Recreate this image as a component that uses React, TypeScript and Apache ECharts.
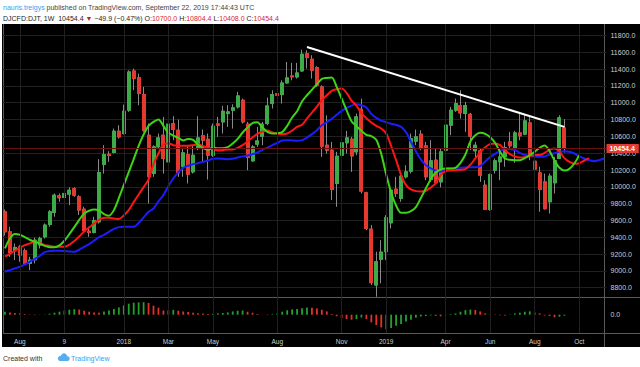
import React, { useEffect, useRef } from 'react';
import * as echarts from 'echarts';

// ---- data (weekly DJCFD:DJT, Jul 2017 - Sep 2019) ----
const firstWeek = '2017-07-17';
const totalSlots = 122; // 114 candles + 8 weeks of forward-shifted alligator jaw

const opens = [9703,9465,9240,9287,9240,9089,9133,9307,9406,9553,9695,9893,9873,9913,9980,9881,9735,9473,9457,9584,
  10265,10388,10408,10661,10634,10911,11378,11299,11097,10614,10158,10475,10614,10297,10752,10673,10238,10384,10178,10455,
  10610,10566,10376,10748,10772,10871,10911,10950,11030,10745,10309,10507,10602,10752,10990,11109,11097,11235,11319,11307,
  11378,11584,11517,11418,11188,10495,10436,10040,10376,10523,10566,10416,10923,9929,9497,8832,9137,9228,9572,9972,
  9861,10119,10186,10543,10626,10487,10087,10317,10059,10436,10733,10911,10966,10871,10863,10428,10428,10020,9731,10198,
  10297,10356,10535,10455,10641,10626,10760,10305,10166,10059,9822,10048,10337,10700];
const closes = [9465,9216,9279,9188,9089,9129,9366,9386,9545,9703,9901,9869,9921,9960,9901,9723,9477,9457,9600,10170,
  10384,10372,10661,10594,10899,11366,11287,11109,10673,10119,10475,10582,10337,10745,10681,10166,10404,10150,10376,10582,
  10554,10376,10721,10733,10899,10891,10939,11081,10772,10348,10475,10546,10745,10962,11097,11089,11235,11295,11307,11354,
  11576,11536,11386,11208,10483,10436,9968,10364,10523,10582,10368,10832,9949,9505,8860,9109,9224,9632,9960,9921,
  10127,10178,10574,10594,10455,10119,10309,10048,10416,10733,10911,10990,10879,10966,10602,10495,10139,9731,10146,10309,
  10356,10467,10487,10641,10606,10784,10376,10210,9968,9739,10127,10309,10820,10454.4];
const highs = [9730,9525,9327,9307,9267,9168,9398,9406,9565,9723,9921,9921,10059,9996,9996,9901,9762,9525,9644,10329,
  10495,10424,10693,10733,10978,11386,11406,11346,11188,10753,10495,10634,10832,10772,10840,10800,10455,10495,10495,10840,
  10681,10634,10752,10832,10962,10970,10982,11129,11049,10772,10495,10713,10772,11061,11148,11227,11267,11485,11473,11473,
  11631,11624,11564,11434,11208,10851,10535,10416,10594,10665,10594,10871,11049,9941,9545,9228,9366,9664,9980,10119,
  10150,10257,10634,10681,10673,10535,10554,10455,10455,10772,10950,11049,11148,11010,10879,10535,10455,10079,10158,10337,
  10455,10535,10653,10665,10891,10851,10840,10356,10238,10158,10158,10356,10851,10804.4];
const lows = [9420,9168,9129,9109,9070,9010,9089,9267,9386,9525,9644,9822,9822,9782,9881,9664,9446,9406,9446,9564,
  10158,10297,10396,10574,10622,10891,11149,10970,10653,9802,10119,10455,10158,10277,10554,10119,10119,10040,10158,10436,
  10297,10087,10356,10594,10634,10713,10693,10931,10752,10198,10297,10475,10495,10733,10931,11049,10990,11227,11267,11287,
  11366,11406,11287,11188,10356,10396,9842,9762,10317,10396,10178,10376,9921,9485,8832,8693,8851,9129,9505,9881,
  9822,10099,10158,10495,10436,10079,10059,10040,9992,10416,10614,10891,10812,10653,10436,10337,10059,9723,9715,10158,
  10079,10238,10455,10285,10554,10614,10317,10040,9703,9731,9683,9921,10337,10408];

// Alligator lines (jaw blue, teeth red, lips green), read per week, already shifted forward
const jawBlue = [8990,9010,9030,9050,9074,9109,9141,9177,9224,9236,9240,9240,9236,9232,9228,9252,9287,9319,9359,9402,
  9430,9466,9501,9521,9525,9525,9525,9569,9636,9703,9743,9826,9901,10008,10099,10174,10226,10250,10269,10281,
  10297,10313,10333,10337,10333,10329,10333,10349,10361,10372,10388,10408,10440,10467,10495,10523,10551,10555,10551,10547,
  10555,10586,10626,10673,10733,10768,10808,10856,10903,10939,10966,10982,10970,10943,10867,10820,10788,10768,10749,10737,
  10713,10650,10535,10424,10325,10258,10218,10194,10178,10214,10222,10226,10226,10230,10234,10234,10246,10301,10353,10392,
  10428,10448,10448,10436,10404,10380,10368,10361,10357,10361,10384,10400,10416,10424,10416,10396,10361,10337,10317,10305,
  10317,10337];
const teethRed = [9169,9204,9240,9276,9307,9327,9347,9335,9307,9299,9287,9287,9287,9311,9355,9410,9470,9517,9565,9608,
  9632,9632,9624,9616,9660,9723,9818,9909,9996,10087,10269,10396,10503,10519,10495,10491,10487,10487,10495,10507,
  10483,10467,10448,10432,10436,10444,10444,10464,10495,10539,10586,10630,10654,10669,10646,10634,10626,10634,10669,10713,
  10737,10812,10883,10955,11030,11089,11141,11160,11168,11117,11026,10966,10875,10816,10765,10725,10693,10634,10487,10317,
  10143,10020,9969,9949,9945,9953,9992,10040,10139,10186,10194,10198,10202,10210,10262,10337,10412,10471,10507,10515,
  10495,10436,10388,10361,10349,10353,10365,10377,10377,10404,10440,10456,10420,10341,10297,10273,10281,10313,10341];
const lipsGreen = [9268,9386,9438,9430,9402,9371,9347,9327,9299,9283,9283,9303,9359,9438,9521,9608,9683,9715,9731,9719,
  9676,9656,9723,9866,10020,10174,10329,10487,10622,10725,10772,10800,10725,10642,10610,10582,10551,10570,10559,10499,
  10460,10440,10464,10460,10460,10471,10515,10570,10646,10705,10757,10768,10705,10654,10634,10638,10650,10725,10824,10899,
  11014,11089,11153,11220,11283,11295,11299,11188,11050,10911,10780,10721,10666,10618,10602,10559,10392,10147,9933,9778,
  9691,9691,9711,9759,9866,9980,10091,10170,10206,10218,10218,10226,10285,10384,10539,10614,10642,10630,10590,10523,
  10416,10337,10321,10317,10317,10341,10377,10416,10464,10491,10424,10313,10226,10194,10214,10277,10377];

// lower oscillator histogram and its bar colours (g = rising, r = falling)
const oscValues = [210,161,119,91,49,21,-35,-14,14,70,140,210,301,350,385,364,280,210,161,140,
  231,301,399,511,651,770,840,861,875,826,630,490,294,308,336,280,224,189,140,98,
  77,49,63,91,119,161,231,280,294,210,140,49,7,-28,35,91,210,315,371,406,
  448,504,490,441,350,231,49,-105,-231,-301,-350,-301,-196,-301,-539,-721,-889,-1015,-931,-770,
  -651,-469,-350,-210,-126,-91,-49,-84,-112,-35,35,91,210,322,357,329,231,91,21,-21,
  -42,-49,14,91,140,210,238,154,91,-49,-98,-182,-140,-70];
const oscColors = 'grrrrrrggggggggrrrrrgggggggggrrrrggrrrrrrrgggggggrrrrrggggggggrrrrrrrrrggrrrrrgggggggggrrggggggrrrrrrrgggggrrrrrgg';

// trend line drawn by the author (week index, price)
const trendIdx = [61, 113];
const trendVals = [11663, 10713];

// axis ticks
const priceTicks = [8800, 9000, 9200, 9400, 9600, 9800, 10000, 10200, 10400, 10600, 10800, 11000, 11200, 11400, 11600, 11800];
const timeTickDates = ['2017-08-07', '2017-10-09', '2018-01-01', '2018-03-05', '2018-05-07', '2018-08-06', '2018-11-05', '2019-01-07', '2019-04-01', '2019-06-03', '2019-08-05', '2019-10-07'];
const timeTickLabels = ['Aug', '9', '2018', 'Mar', 'May', 'Aug', 'Nov', '2019', 'Apr', 'Jun', 'Aug', 'Oct'];

const UP = '#3dac48';
const DOWN = '#e5392f';
const WICK = '#8a8a8a';
const GRIDC = '#202020';
const AXISTXT = '#cfcfcf';
const FONT = '"Liberation Sans", Arial, sans-serif';

function buildDates(): string[] {
  const t0 = Date.parse(firstWeek + 'T00:00:00Z');
  const out: string[] = [];
  for (let i = 0; i < totalSlots; i++) out.push(new Date(t0 + i * 7 * 86400000).toISOString().slice(0, 10));
  return out;
}

export default function App() {
  const ref = useRef<HTMLDivElement>(null);
  useEffect(() => {
    if (!ref.current) return;
    const chart = echarts.init(ref.current, undefined, { renderer: 'svg' });
    const dates = buildDates();
    const labelMap: Record<string, string> = {};
    timeTickDates.forEach((d, i) => (labelMap[d] = timeTickLabels[i]));
    const isTick = (idx: number) => labelMap[dates[idx]] !== undefined;

    const ohlc = opens.map((o, i) => [o, closes[i], lows[i], highs[i]]);
    const bodies = opens.map((o, i) => [o, closes[i], Math.min(o, closes[i]), Math.max(o, closes[i])]);
    const lastClose = closes[closes.length - 1];

    const vGrid = timeTickDates.map((d) => ({ xAxis: d }));

    const option: any = {
      animation: false,
      backgroundColor: 'transparent',
      textStyle: { fontFamily: FONT },
      grid: [
        { left: 2.5, width: 604, top: 24, height: 273 },
        { left: 2.5, width: 604, top: 297, height: 36 },
      ],
      xAxis: [
        {
          type: 'category', gridIndex: 0, data: dates, boundaryGap: true,
          axisLine: { show: false }, axisTick: { show: false }, axisLabel: { show: false }, splitLine: { show: false },
        },
        {
          type: 'category', gridIndex: 1, data: dates, boundaryGap: true,
          axisLine: { show: false },
          axisTick: { show: true, interval: (i: number) => isTick(i), alignWithLabel: true, length: 3, lineStyle: { color: '#777' } },
          axisLabel: {
            show: true, interval: (i: number) => isTick(i), formatter: (v: string) => labelMap[v] || '',
            color: AXISTXT, fontSize: 6.5, margin: 5, fontFamily: FONT,
          },
          splitLine: { show: false },
        },
      ],
      yAxis: [
        {
          type: 'value', gridIndex: 0, position: 'right', min: 8690, max: 11936, scale: true,
          axisLine: { show: false },
          axisTick: { show: false, customValues: priceTicks },
          axisLabel: { customValues: priceTicks, formatter: (v: number) => v.toFixed(1), color: AXISTXT, fontSize: 7, margin: 4, fontFamily: FONT },
          splitLine: { show: true, lineStyle: { color: GRIDC, width: 1 } },
        },
        {
          type: 'value', gridIndex: 1, position: 'right', min: -1281, max: 1239,
          axisLine: { show: false },
          axisTick: { show: false, customValues: [0] },
          axisLabel: { customValues: [0], formatter: (v: number) => v.toFixed(1), color: AXISTXT, fontSize: 7, margin: 4, fontFamily: FONT },
          splitLine: { show: false },
        },
      ],
      series: [
        {
          type: 'line', xAxisIndex: 0, yAxisIndex: 0, data: [], z: 1, silent: true,
          markLine: {
            silent: true, symbol: ['none', 'none'], animation: false,
            label: { show: false }, lineStyle: { color: GRIDC, width: 1, type: 'solid' },
            data: vGrid,
          },
        },
        {
          type: 'line', xAxisIndex: 1, yAxisIndex: 1, data: [], z: 1, silent: true,
          markLine: {
            silent: true, symbol: ['none', 'none'], animation: false,
            label: { show: false }, lineStyle: { color: GRIDC, width: 1, type: 'solid' },
            data: vGrid,
          },
        },
        {
          type: 'line', xAxisIndex: 0, yAxisIndex: 0, data: [], z: 1, silent: true,
          markLine: {
            silent: true, symbol: ['none', 'none'], animation: false,
            lineStyle: { color: '#6a1010', width: 1, type: 'solid' },
            label: {
              show: true, position: 'end', distance: 0, formatter: lastClose.toFixed(1),
              backgroundColor: '#e53935', color: '#ffffff', fontSize: 7, fontWeight: 'bold',
              padding: [1, 4, 1, 3], fontFamily: FONT,
            },
            data: [{ yAxis: lastClose }],
          },
        },
        {
          type: 'candlestick', xAxisIndex: 0, yAxisIndex: 0, data: ohlc, barWidth: 3.5, z: 2,
          itemStyle: { color: WICK, color0: WICK, borderColor: WICK, borderColor0: WICK, borderWidth: 1 },
        },
        {
          type: 'candlestick', xAxisIndex: 0, yAxisIndex: 0, data: bodies, barWidth: 3.5, z: 3,
          itemStyle: { color: UP, color0: DOWN, borderColor: UP, borderColor0: DOWN, borderWidth: 1 },
        },
        {
          type: 'line', xAxisIndex: 0, yAxisIndex: 0, data: jawBlue, showSymbol: false, z: 4,
          lineStyle: { color: '#1c1cff', width: 2 }, smooth: 0.3,
        },
        {
          type: 'line', xAxisIndex: 0, yAxisIndex: 0, data: teethRed, showSymbol: false, z: 4,
          lineStyle: { color: '#ff1414', width: 2 }, smooth: 0.3,
        },
        {
          type: 'line', xAxisIndex: 0, yAxisIndex: 0, data: lipsGreen, showSymbol: false, z: 4,
          lineStyle: { color: '#3cd414', width: 2 }, smooth: 0.3,
        },
        {
          type: 'line', xAxisIndex: 0, yAxisIndex: 0, showSymbol: false, z: 5,
          data: trendIdx.map((ix, i) => [dates[ix], trendVals[i]]),
          lineStyle: { color: '#ffffff', width: 2 },
        },
        {
          type: 'bar', xAxisIndex: 1, yAxisIndex: 1, barWidth: 1.8, z: 3,
          data: oscValues.map((v, i) => ({ value: v, itemStyle: { color: oscColors[i] === 'g' ? '#21a02c' : '#e5302a' } })),
        },
      ],
      graphic: [
        { type: 'line', shape: { x1: 3.5, y1: 24, x2: 3.5, y2: 333 }, style: { stroke: '#5a5a5a', lineWidth: 1 }, silent: true },
        { type: 'line', shape: { x1: 3, y1: 297.5, x2: 640, y2: 297.5 }, style: { stroke: '#5a5a5a', lineWidth: 1 }, silent: true },
        { type: 'line', shape: { x1: 3, y1: 333.5, x2: 640, y2: 333.5 }, style: { stroke: '#5a5a5a', lineWidth: 1 }, silent: true },
        { type: 'line', shape: { x1: 604.5, y1: 24, x2: 604.5, y2: 347 }, style: { stroke: '#5a5a5a', lineWidth: 1 }, silent: true },
        {
          type: 'text', x: 3, y: 7, silent: true,
          style: {
            text: '{u|nauris.treigys}{g| published on TradingView.com, September 22, 2019 17:44:43 UTC}',
            verticalAlign: 'middle', fontFamily: FONT, fontSize: 7,
            rich: {
              u: { fill: '#3a9ef0', fontSize: 7, fontFamily: FONT },
              g: { fill: '#444444', fontSize: 7, fontFamily: FONT },
            },
          },
        },
        {
          type: 'text', x: 3, y: 18, silent: true,
          style: {
            text: '{b|DJCFD:DJT, 1W  10454.4 }{r|\u25BC}{b| \u221249.9 (\u22120.47%) O:}{v|10700.0}{b| H:}{v|10804.4}{b| L:}{v|10408.0}{b| C:}{v|10454.4}',
            verticalAlign: 'middle', fontFamily: FONT, fontSize: 7,
            rich: {
              b: { fill: '#1e1e1e', fontSize: 7, fontWeight: 'normal', fontFamily: FONT },
              r: { fill: '#c8201e', fontSize: 7, fontFamily: FONT },
              v: { fill: '#d8262a', fontSize: 7, fontFamily: FONT },
            },
          },
        },
        { type: 'circle', shape: { cx: 60.5, cy: 358.5, r: 2.6 }, style: { fill: '#56aef0' }, silent: true },
        { type: 'circle', shape: { cx: 64, cy: 356.6, r: 3.2 }, style: { fill: '#56aef0' }, silent: true },
        { type: 'circle', shape: { cx: 67.3, cy: 358.6, r: 2.4 }, style: { fill: '#56aef0' }, silent: true },
        { type: 'rect', shape: { x: 60.5, y: 358, width: 7, height: 3 }, style: { fill: '#56aef0' }, silent: true },
        {
          type: 'text', x: 3, y: 358, silent: true,
          style: { text: 'Created with', fill: '#333333', fontSize: 7, fontFamily: FONT, verticalAlign: 'middle' },
        },
        {
          type: 'text', x: 71, y: 358, silent: true,
          style: { text: 'TradingView', fill: '#3a9ef0', fontSize: 7, fontFamily: FONT, verticalAlign: 'middle' },
        },
      ],
    };
    chart.setOption(option);
    return () => chart.dispose();
  }, []);

  return (
    <div style={{ position: 'absolute', left: 0, top: 0, width: 640, height: 367, background: '#ffffff', overflow: 'hidden' }}>
      <div style={{ position: 'absolute', left: 2, top: 24, width: 638, height: 323, background: '#000000' }} />
      <div ref={ref} style={{ position: 'absolute', left: 0, top: 0, width: 640, height: 367 }} />
    </div>
  );
}
